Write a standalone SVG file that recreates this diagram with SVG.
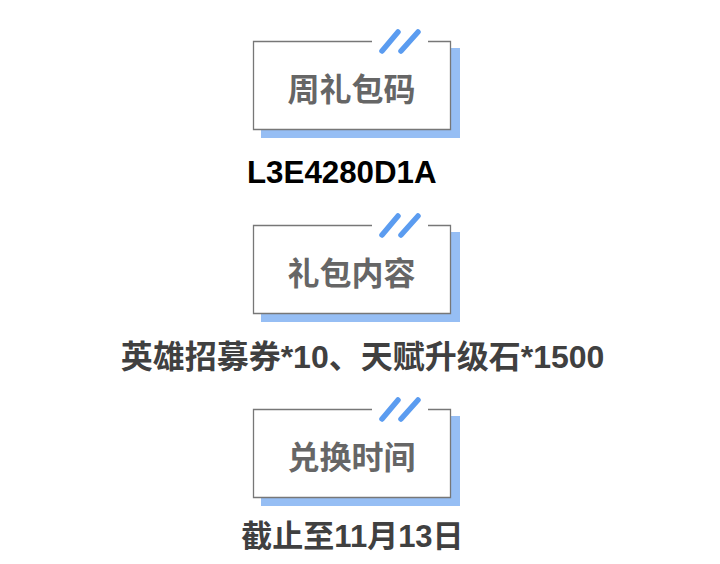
<svg xmlns="http://www.w3.org/2000/svg" width="720" height="564" viewBox="0 0 720 564">
<style>
.shadow{fill:#96bef4}
.frame{fill:#fff;stroke:none}
.border{fill:none;stroke:#777;stroke-width:1.3}
.slash{stroke:#5b9cf0;stroke-width:5.5;stroke-linecap:round}
.title{font-family:"Noto Sans CJK SC","Liberation Sans",sans-serif;font-weight:700;font-size:32px;fill:#666;text-anchor:middle}
.body{font-family:"Liberation Sans","Noto Sans CJK SC",sans-serif;font-weight:700;fill:#404040;text-anchor:middle}
.code{font-family:"Liberation Sans","Noto Sans CJK SC",sans-serif;font-weight:700;font-size:31.3px;fill:#000}
</style>
<defs>
<g id="badge">
<rect class="shadow" x="261" y="48" width="199" height="90"/>
<rect class="frame" x="253.5" y="41.5" width="197" height="88"/>
<path class="border" d="M372 41.5 H253.5 V129.5 H450.5 V41.5 H428"/>
<line class="slash" x1="382" y1="51" x2="398" y2="32"/>
<line class="slash" x1="401" y1="51" x2="418" y2="32"/>
</g>
</defs>
<g id="node-weekly-code">
<use href="#badge"/>
<text class="title" x="351.5" y="101">周礼包码</text>
</g>
<g id="node-code-value">
<text class="code" x="247" y="183">L3E4280D1A</text>
</g>
<g id="node-content">
<use href="#badge" transform="translate(0,184)"/>
<text class="title" x="351.5" y="285">礼包内容</text>
</g>
<g id="node-content-value">
<text class="body" x="362.5" y="368" font-size="32">英雄招募券*10、天赋升级石*1500</text>
</g>
<g id="node-time">
<use href="#badge" transform="translate(0,368)"/>
<text class="title" x="351.5" y="469">兑换时间</text>
</g>
<g id="node-time-value">
<text class="body" x="352.5" y="547" font-size="31">截止至11月13日</text>
</g>
<g id="connectors"/>
</svg>
